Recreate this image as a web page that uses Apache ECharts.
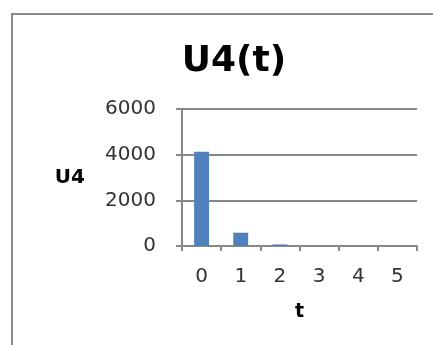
<!DOCTYPE html>
<html>
<head>
<meta charset="utf-8">
<script src="https://cdn.jsdelivr.net/npm/echarts@6/dist/echarts.min.js"></script>
<style>
  html, body { margin: 0; padding: 0; background: #fff; }
  #chart { width: 433px; height: 345px; }
</style>
</head>
<body>
<div id="chart"></div>
<script>
// U4 values at each time step t
const tValues = ['0', '1', '2', '3', '4', '5'];
const u4Values = [4130, 582, 70, 9, 1, 0.1];
const yTicks = { min: 0, max: 6000, interval: 2000 };

const gridColor = '#878787';
const font = 'DejaVu Sans';

const chart = echarts.init(document.getElementById('chart'), null, { renderer: 'canvas' });
chart.setOption({
  backgroundColor: '#ffffff',
  animation: false,
  title: {
    text: 'U4(t)',
    left: 229,
    textAlign: 'center',
    top: 39,
    textStyle: { fontFamily: font, fontWeight: 'bold', fontSize: 36, color: '#000' }
  },
  graphic: [{
    type: 'rect',
    shape: { x: 12, y: 14, width: 600, height: 600 },
    style: { fill: 'none', stroke: '#8c8c8c', lineWidth: 2 },
    silent: true
  }],
  grid: { left: 182, right: 16, top: 109, bottom: 99 },
  xAxis: {
    type: 'category',
    data: tValues,
    name: 't',
    nameLocation: 'middle',
    nameGap: 57,
    nameTextStyle: { fontFamily: font, fontWeight: 'bold', fontSize: 19, color: '#000' },
    axisLine: { lineStyle: { color: gridColor, width: 2 } },
    axisTick: { show: true, length: 5, interval: 0, lineStyle: { color: gridColor, width: 2 } },
    axisLabel: { fontFamily: font, fontSize: 20, color: '#333', margin: 21 },
    splitLine: { show: false }
  },
  yAxis: {
    type: 'value',
    min: yTicks.min,
    max: yTicks.max,
    interval: yTicks.interval,
    name: 'U4',
    nameLocation: 'middle',
    nameRotate: 0,
    nameGap: 97,
    nameTextStyle: { fontFamily: font, fontWeight: 'bold', fontSize: 20, color: '#000', padding: [6, 0, 0, 0] },
    axisLine: { show: true, lineStyle: { color: gridColor, width: 2 } },
    axisTick: { show: true, length: 6, lineStyle: { color: gridColor, width: 2 } },
    axisLabel: { fontFamily: font, fontSize: 20, color: '#333', margin: 26, formatter: v => String(v) },
    splitLine: { show: true, lineStyle: { color: gridColor, width: 2 } }
  },
  series: [{
    type: 'bar',
    data: u4Values,
    barWidth: '38%',
    itemStyle: { color: '#4f81bd' }
  }]
});
</script>
</body>
</html>
